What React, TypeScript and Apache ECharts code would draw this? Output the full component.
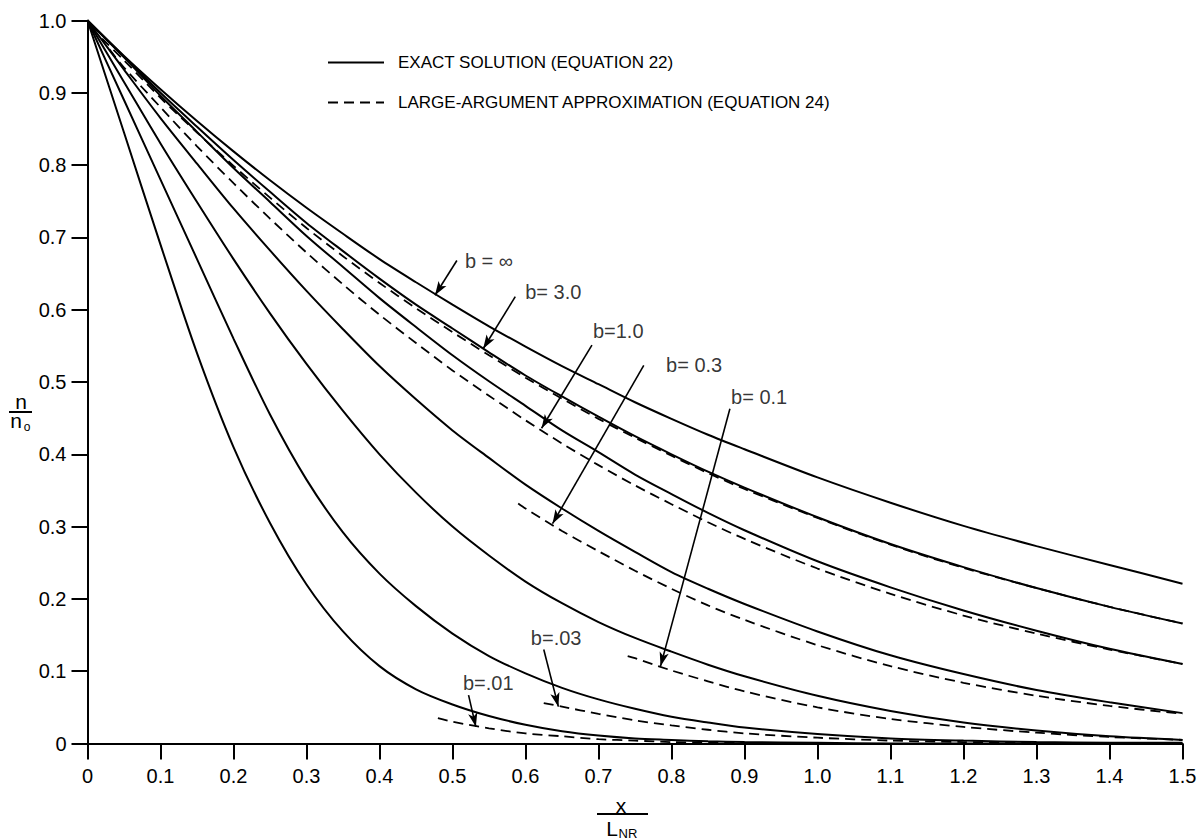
import React, { useEffect, useRef } from "react";
import * as echarts from "echarts";

const FONT = "Liberation Sans, Arial, sans-serif";
const SOLID = "EXACT SOLUTION (EQUATION 22)";
const DASH = "LARGE-ARGUMENT APPROXIMATION (EQUATION 24)";

const xTickLabels = ["0", "0.1", "0.2", "0.3", "0.4", "0.5", "0.6", "0.7", "0.8", "0.9", "1.0", "1.1", "1.2", "1.3", "1.4", "1.5"];
const yTickLabels = ["0", "0.1", "0.2", "0.3", "0.4", "0.5", "0.6", "0.7", "0.8", "0.9", "1.0"];

// exact solution curves (solid)
const xExact = [0, 0.05, 0.1, 0.15, 0.2, 0.25, 0.3, 0.35, 0.4, 0.45, 0.5, 0.55, 0.6, 0.65, 0.7, 0.75, 0.8, 0.85, 0.9, 1.0, 1.1, 1.2, 1.3, 1.4, 1.5];
const exactInf = [1.0, 0.951, 0.905, 0.861, 0.819, 0.779, 0.741, 0.705, 0.67, 0.638, 0.607, 0.577, 0.549, 0.522, 0.497, 0.472, 0.449, 0.427, 0.407, 0.368, 0.333, 0.301, 0.273, 0.247, 0.221];
const exact3 = [1.0, 0.95, 0.9, 0.853, 0.807, 0.763, 0.72, 0.681, 0.643, 0.607, 0.574, 0.541, 0.509, 0.48, 0.452, 0.425, 0.4, 0.376, 0.354, 0.313, 0.276, 0.244, 0.215, 0.189, 0.166];
const exact1 = [1.0, 0.949, 0.896, 0.846, 0.796, 0.749, 0.702, 0.659, 0.616, 0.576, 0.537, 0.501, 0.467, 0.433, 0.403, 0.372, 0.345, 0.319, 0.295, 0.252, 0.216, 0.184, 0.156, 0.131, 0.11];
const exact03 = [1.0, 0.932, 0.865, 0.802, 0.74, 0.682, 0.626, 0.573, 0.522, 0.476, 0.433, 0.395, 0.358, 0.325, 0.294, 0.265, 0.237, 0.214, 0.193, 0.155, 0.122, 0.096, 0.074, 0.057, 0.042];
const exact01 = [1.0, 0.915, 0.83, 0.749, 0.67, 0.595, 0.525, 0.46, 0.4, 0.347, 0.3, 0.26, 0.224, 0.194, 0.168, 0.146, 0.127, 0.109, 0.093, 0.066, 0.045, 0.029, 0.018, 0.01, 0.005];
const exact003 = [1.0, 0.89, 0.78, 0.67, 0.56, 0.455, 0.365, 0.292, 0.235, 0.19, 0.152, 0.121, 0.097, 0.077, 0.061, 0.048, 0.037, 0.029, 0.022, 0.013, 0.007, 0.004, 0.002, 0.001, 0.001];
const exact001 = [1.0, 0.845, 0.69, 0.54, 0.41, 0.305, 0.22, 0.155, 0.107, 0.075, 0.054, 0.038, 0.026, 0.017, 0.011, 0.007, 0.005, 0.003, 0.002, 0.001, 0, 0, 0, 0, 0];

// large-argument approximation curves (dashed)
const xApprox3 = [0.02, 0.05, 0.1, 0.15, 0.2, 0.25, 0.3, 0.35, 0.4, 0.45, 0.5, 0.55, 0.6, 0.65, 0.7, 0.75, 0.8, 0.85, 0.9, 1.0, 1.1, 1.2, 1.3, 1.4, 1.5];
const approx3 = [0.975, 0.945, 0.893, 0.845, 0.799, 0.755, 0.713, 0.674, 0.637, 0.602, 0.569, 0.537, 0.506, 0.477, 0.449, 0.423, 0.398, 0.374, 0.352, 0.312, 0.275, 0.243, 0.215, 0.189, 0.166];
const xApprox1 = [0.03, 0.05, 0.1, 0.15, 0.2, 0.25, 0.3, 0.35, 0.4, 0.45, 0.5, 0.55, 0.6, 0.65, 0.7, 0.75, 0.8, 0.85, 0.9, 1.0, 1.1, 1.2, 1.3, 1.4, 1.5];
const approx1 = [0.96, 0.935, 0.88, 0.826, 0.775, 0.726, 0.679, 0.635, 0.593, 0.554, 0.516, 0.481, 0.447, 0.415, 0.385, 0.357, 0.331, 0.306, 0.283, 0.242, 0.207, 0.177, 0.152, 0.13, 0.11];
const xApprox03 = [0.59, 0.6, 0.65, 0.7, 0.75, 0.8, 0.85, 0.9, 1.0, 1.1, 1.2, 1.3, 1.4, 1.5];
const approx03 = [0.332, 0.325, 0.294, 0.266, 0.239, 0.214, 0.191, 0.171, 0.136, 0.107, 0.084, 0.066, 0.052, 0.041];
const xApprox01 = [0.74, 0.75, 0.8, 0.85, 0.9, 1.0, 1.1, 1.2, 1.3, 1.4, 1.5];
const approx01 = [0.121, 0.118, 0.101, 0.086, 0.072, 0.05, 0.034, 0.023, 0.015, 0.009, 0.005];
const xApprox003 = [0.625, 0.65, 0.7, 0.75, 0.8, 0.85, 0.9, 1.0, 1.1, 1.2, 1.3];
const approx003 = [0.056, 0.051, 0.041, 0.032, 0.025, 0.019, 0.014, 0.008, 0.004, 0.002, 0.001];
const xApprox001 = [0.48, 0.5, 0.55, 0.6, 0.65, 0.7, 0.75, 0.8, 0.9, 1.0];
const approx001 = [0.035, 0.03, 0.021, 0.014, 0.01, 0.006, 0.004, 0.002, 0.001, 0.0];

// curve labels and their arrows
const labelTexts = ["b = ∞", "b= 3.0", "b=1.0", "b= 0.3", "b= 0.1", "b=.03", "b=.01"];
const labelX = [0.55, 0.638, 0.727, 0.831, 0.92, 0.642, 0.549];
const labelY = [0.668, 0.625, 0.57, 0.524, 0.479, 0.146, 0.084];
const arrowFromX = [0.506, 0.586, 0.691, 0.762, 0.88, 0.625, 0.522];
const arrowFromY = [0.668, 0.618, 0.551, 0.523, 0.463, 0.13, 0.067];
const arrowToX = [0.476, 0.542, 0.622, 0.637, 0.785, 0.645, 0.532];
const arrowToY = [0.62, 0.546, 0.436, 0.304, 0.107, 0.051, 0.023];

const pairs = (xs: number[], ys: number[]) => xs.map((x, i) => [x, ys[i]]);

export default function App() {
  const ref = useRef<HTMLDivElement>(null);
  useEffect(() => {
    if (!ref.current) return;
    const chart = echarts.init(ref.current, null, { renderer: "svg" });

    const solid = (xs: number[], ys: number[]) => ({
      type: "line",
      name: SOLID,
      data: pairs(xs, ys),
      symbol: "none",
      smooth: 0.3,
      color: "#000",
      itemStyle: { color: "#000" },
      lineStyle: { color: "#000", width: 2 },
      silent: true,
      z: 3,
    });
    const dashed = (xs: number[], ys: number[]) => ({
      type: "line",
      name: DASH,
      data: pairs(xs, ys),
      symbol: "none",
      smooth: 0.3,
      color: "#000",
      itemStyle: { color: "#000" },
      lineStyle: { color: "#000", width: 1.8, type: [10, 6] },
      silent: true,
      z: 2,
    });

    const textStyle = { fontFamily: FONT, color: "#000" };

    const option: any = {
      animation: false,
      backgroundColor: "#fff",
      grid: { left: 87.5, top: 20.5, width: 1095, height: 723, containLabel: false },
      legend: {
        data: [SOLID, DASH],
        orient: "vertical",
        left: 327,
        top: 54,
        padding: 0,
        itemWidth: 56,
        itemHeight: 20,
        itemGap: 23,
        selectedMode: false,
        itemStyle: { color: "rgba(0,0,0,0)", borderColor: "rgba(0,0,0,0)", borderWidth: 0, opacity: 0 },
        textStyle: { ...textStyle, fontSize: 17, padding: [0, 0, 0, 9] },
      },
      xAxis: {
        type: "value",
        min: 0,
        max: 1.5,
        interval: 0.1,
        splitLine: { show: false },
        axisLine: { lineStyle: { color: "#000", width: 2 } },
        axisTick: { length: 16, lineStyle: { color: "#000", width: 2 } },
        axisLabel: {
          ...textStyle,
          fontSize: 20,
          margin: 22,
          formatter: (v: number) => xTickLabels[Math.round(v * 10)] ?? "",
        },
      },
      yAxis: {
        type: "value",
        min: 0,
        max: 1,
        interval: 0.1,
        splitLine: { show: false },
        axisLine: { lineStyle: { color: "#000", width: 2 } },
        axisTick: { length: 16, lineStyle: { color: "#000", width: 2 } },
        axisLabel: {
          ...textStyle,
          fontSize: 20,
          margin: 21,
          formatter: (v: number) => yTickLabels[Math.round(v * 10)] ?? "",
        },
      },
      graphic: [
        { type: "text", x: 621, y: 805, style: { text: "x", fontSize: 21, fontFamily: FONT, fill: "#000", textAlign: "center", textVerticalAlign: "middle" } },
        { type: "line", shape: { x1: 597, y1: 814, x2: 648, y2: 814 }, style: { stroke: "#000", lineWidth: 2 } },
        { type: "text", x: 612, y: 828, style: { text: "L", fontSize: 21, fontFamily: FONT, fill: "#000", textAlign: "center", textVerticalAlign: "middle" } },
        { type: "text", x: 628, y: 833, style: { text: "NR", fontSize: 13, fontFamily: FONT, fill: "#000", textAlign: "center", textVerticalAlign: "middle" } },
        { type: "text", x: 21, y: 401, style: { text: "n", fontSize: 21, fontFamily: FONT, fill: "#000", textAlign: "center", textVerticalAlign: "middle" } },
        { type: "line", shape: { x1: 9, y1: 412, x2: 32, y2: 412 }, style: { stroke: "#000", lineWidth: 2 } },
        { type: "text", x: 16, y: 420, style: { text: "n", fontSize: 21, fontFamily: FONT, fill: "#000", textAlign: "center", textVerticalAlign: "middle" } },
        { type: "text", x: 27, y: 427, style: { text: "o", fontSize: 12, fontFamily: FONT, fill: "#000", textAlign: "center", textVerticalAlign: "middle" } },
      ],
      series: [
        solid(xExact, exactInf),
        solid(xExact, exact3),
        solid(xExact, exact1),
        solid(xExact, exact03),
        solid(xExact, exact01),
        solid(xExact, exact003),
        solid(xExact, exact001),
        dashed(xApprox3, approx3),
        dashed(xApprox1, approx1),
        dashed(xApprox03, approx03),
        dashed(xApprox01, approx01),
        dashed(xApprox003, approx003),
        dashed(xApprox001, approx001),
        {
          type: "scatter",
          name: "labels",
          symbolSize: 0,
          silent: true,
          z: 5,
          data: labelX.map((x, i) => ({ value: [x, labelY[i]], label: { formatter: labelTexts[i] } })),
          label: { show: true, position: "inside", ...textStyle, fontSize: 20 },
          markLine: {
            silent: true,
            symbol: ["none", "arrow"],
            symbolSize: [7, 14],
            label: { show: false },
            lineStyle: { color: "#000", width: 1.6, type: "solid" },
            data: arrowFromX.map((x, i) => [
              { coord: [x, arrowFromY[i]] },
              { coord: [arrowToX[i], arrowToY[i]] },
            ]),
          },
        },
      ],
    };
    chart.setOption(option);
    return () => chart.dispose();
  }, []);
  return <div ref={ref} style={{ position: "fixed", left: 0, top: 0, width: 1201, height: 840, background: "#fff" }} />;
}
